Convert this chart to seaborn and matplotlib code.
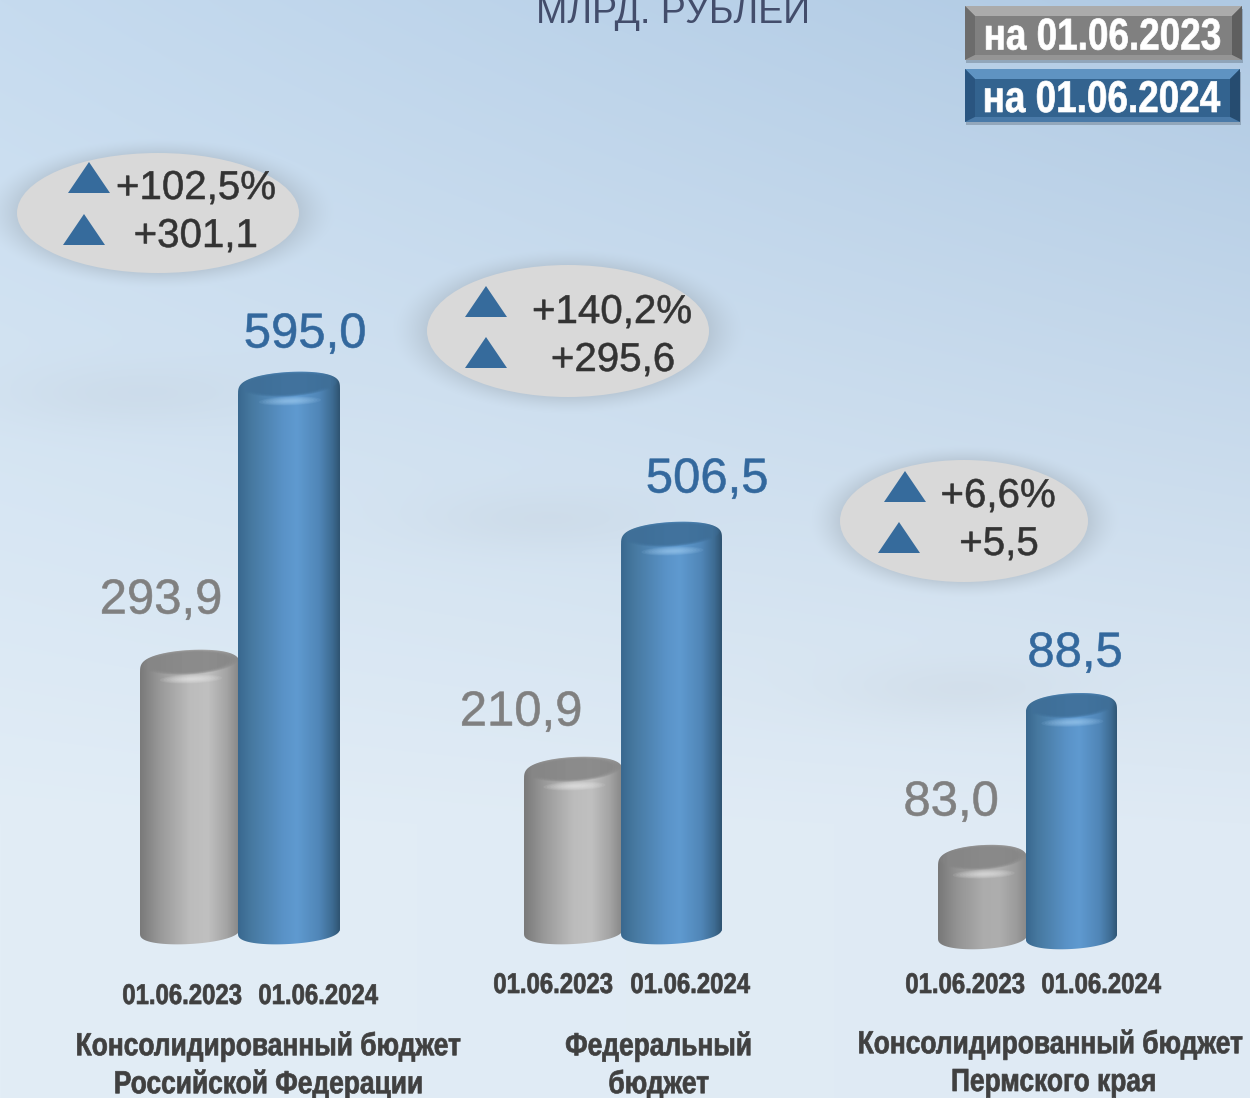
import numpy as np
import pandas as pd
import seaborn as sns
import matplotlib.pyplot as plt
from matplotlib.colors import LinearSegmentedColormap, to_rgb
from matplotlib.patches import Ellipse, Polygon, Rectangle
from matplotlib.patheffects import AbstractPathEffect
from matplotlib.transforms import Affine2D

W, H = 1250, 1098
DATES = ['01.06.2023', '01.06.2024']
group_names = [['Консолидированный бюджет', 'Российской Федерации'],
               ['Федеральный', 'бюджет'],
               ['Консолидированный бюджет', 'Пермского края']]
values_2023 = [293.9, 210.9, 83.0]
values_2024 = [595.0, 506.5, 88.5]
delta_pct = ['+102,5%', '+140,2%', '+6,6%']
delta_abs = ['+301,1', '+295,6', '+5,5']
legend_labels = ['на 01.06.2023', 'на 01.06.2024']
title = 'МЛРД. РУБЛЕЙ'

# layout, in pixels of the picture
ax_left = [140, 524, 938]
ax_right = [340, 722, 1117]
ax_base = [931, 931, 936]
px_per_unit = [0.9233, 0.795, 27.6]
axis_floor = [11.2, 17.2, 80.43]

sns.set_theme(style='white')
plt.rcParams['font.family'] = ['Liberation Sans', 'DejaVu Sans']

GREY, BLUE = '#808080', '#33689d'
grey_cm = LinearSegmentedColormap.from_list('g', [(0, '#7a7a7a'), (.2, '#999999'), (.5, '#bcbcbc'),
                                                  (.68, '#c0c0c0'), (.87, '#a4a4a4'), (1, '#868686')])
grey_cm3 = LinearSegmentedColormap.from_list('g3', [(0, '#787878'), (.2, '#929292'), (.5, '#acacac'),
                                                    (.68, '#aeaeae'), (.87, '#9c9c9c'), (1, '#868686')])
blue_cm = LinearSegmentedColormap.from_list('b', [(0, '#39688f'), (.12, '#46789f'), (.45, '#5a93c8'),
                                                  (.58, '#5f9ad0'), (.8, '#5086b7'), (.93, '#3d6b92'), (1, '#2f5472')])

fig = plt.figure(figsize=(W / 100, H / 100), dpi=100)

# background
bg = fig.add_axes([0, 0, 1, 1], zorder=0)
yy, xx = np.mgrid[0:H, 0:W]
u, v = xx / W, yy / H
v2 = np.clip(v / 0.75, 0, 1)[..., None]
u2 = u[..., None]
c = lambda s: np.array(to_rgb(s))
img = ((1 - u2) * (1 - v2) * c('#c6dbef') + u2 * (1 - v2) * c('#afc9e3')
       + (1 - u2) * v2 * c('#e2edf6') + u2 * v2 * c('#dfeaf4'))
for cx, cy, sx, sy in [(130, 395, 130, 32), (540, 520, 120, 30), (960, 690, 120, 30)]:
    a = 0.10 * np.exp(-((xx - cx) / sx) ** 2 - ((yy - cy) / sy) ** 2)
    img = img * (1 - a[..., None]) + c('#a0a8b0') * a[..., None]
badges = [(158, 213, 141, 60), (568, 331, 141, 66), (964, 521, 124, 61)]
for cx, cy, a_, b_ in badges:
    d = np.sqrt(((xx - cx) / a_) ** 2 + ((yy - cy) / b_) ** 2)
    a = 0.36 * np.clip((1.26 - d) / 0.26, 0, 1) ** 1.5
    img = img * (1 - a[..., None]) + c('#98a4ae') * a[..., None]
bg.imshow(img, extent=[0, W, H, 0], aspect='auto')
bg.axis('off')

# bars
bar_axes = []
for i in range(3):
    ax = fig.add_axes([ax_left[i] / W, (H - ax_base[i]) / H, (ax_right[i] - ax_left[i]) / W, ax_base[i] / H], zorder=1)
    df = pd.DataFrame({'date': DATES, 'value': [values_2023[i], values_2024[i]]})
    sns.barplot(data=df, x='date', y='value', hue='date', palette=[GREY, BLUE], width=1, legend=False, ax=ax, saturation=1)
    ax.set_xlim(-0.5, 1.5)
    ax.set_ylim(axis_floor[i], axis_floor[i] + ax_base[i] / px_per_unit[i])
    ax.axis('off')
    ax.patch.set_alpha(0)
    bar_axes.append(ax)

# overlay in pixel coordinates
ov = fig.add_axes([0, 0, 1, 1], zorder=2)
ov.set_xlim(0, W)
ov.set_ylim(H, 0)
ov.set_autoscale_on(False)
ov.axis('off')
ov.patch.set_alpha(0)


class Squeeze(AbstractPathEffect):
    # the originals use a narrow bold face, none is installed
    def __init__(self, sx, xa, lw=0.5):
        super().__init__()
        self.sx = sx
        self.xa = xa
        self.lw = lw

    def draw_path(self, renderer, gc, tpath, affine, rgbFace=None):
        squeeze = Affine2D().translate(-self.xa, 0).scale(self.sx, 1).translate(self.xa, 0)
        gc0 = renderer.new_gc()
        gc0.copy_properties(gc)
        gc0.set_foreground(rgbFace)
        gc0.set_linewidth(self.lw)
        renderer.draw_path(gc0, tpath, affine + squeeze, rgbFace)
        gc0.restore()


def narrow_text(x, y, s, sx, **kw):
    t = ov.text(x, y, s, fontweight='bold', ha='center', va='center', zorder=8, **kw)
    t.set_path_effects([Squeeze(sx, ov.transData.transform((x, y))[0])])
    return t


def plain_text(x, y, s, **kw):
    t = ov.text(x, y, s, ha='center', va='center', zorder=8, **kw)
    t.set_path_effects([Squeeze(1, 0, 0.4)])
    return t


def to_px(ax, x, y):
    return ov.transData.inverted().transform(ax.transData.transform((x, y)))


def cylinder(ax, p, cm, lid, glow, z):
    x0 = p.get_x()
    x1 = x0 + p.get_width()
    top = p.get_height()
    left, ytop = to_px(ax, x0, top)
    right, ybot = to_px(ax, x1, ax.get_ylim()[0])
    cx = (left + right) / 2
    a = (right - left) / 2
    tilt = 0.055
    t = np.linspace(0, np.pi, 60)
    upper = np.c_[cx + a * np.cos(t), ytop - 20 * np.sin(t) ** 0.6 - tilt * a * np.cos(t)]
    lower = np.c_[cx - a * np.cos(t), ybot + 13 * np.sin(t) ** 0.8 + tilt * a * np.cos(t)]
    sil = Polygon(np.r_[upper, lower], closed=True, transform=ov.transData)
    p.set_clip_path(sil)
    im = ov.imshow(np.linspace(0, 1, 200)[None, :], cmap=cm, extent=[left, right, ybot + 16, ytop - 24],
                   aspect='auto', zorder=z, interpolation='bilinear')
    im.set_clip_path(sil)
    # lid: dark ellipse with soft rim, highlight on the lip
    for k in range(8):
        f = 1 - k * 0.03
        e = Ellipse((cx, ytop - 8), 2 * a * 0.96 * f, 25 * f, angle=-3.5, fc=lid, ec='none', alpha=0.22, zorder=z + 1)
        ov.add_patch(e)
        e.set_clip_path(sil)
    for k in range(8):
        f = 1 - k * 0.11
        e = Ellipse((cx + 1, ytop + 9), 62 * f, 9 * f, angle=-2, fc=glow, ec='none', alpha=0.10, zorder=z + 1)
        ov.add_patch(e)
        e.set_clip_path(sil)


for i, ax in enumerate(bar_axes):
    gp, bp = ax.patches[0], ax.patches[1]
    # blue cylinder overlaps the grey one a little
    bp.set_x(bp.get_x() - 0.02)
    bp.set_width(bp.get_width() + 0.02)
    cylinder(ax, gp, grey_cm3 if i == 2 else grey_cm, '#868686', '#f0f0f0', 3)
    cylinder(ax, bp, blue_cm, '#3f6f98', '#a9d4f7', 5)

# value labels
fmt = lambda v: f'{v:.1f}'.replace('.', ',')
pos_2023 = [(161, 601), (521, 713), (951, 803)]
pos_2024 = [(305, 335), (707, 480), (1075, 654)]
for i in range(3):
    plain_text(*pos_2023[i], fmt(values_2023[i]), color=GREY, fontsize=35.3)
    plain_text(*pos_2024[i], fmt(values_2024[i]), color=BLUE, fontsize=35.3)

# date labels and group names
date_x = [(182, 318), (553, 690), (965, 1101)]
date_y = [997, 986, 986]
name_pos = [[(269, 1047), (269, 1085)], [(659, 1047), (659, 1085)], [(1051, 1045), (1054, 1083)]]
for i in range(3):
    for j in range(2):
        narrow_text(date_x[i][j], date_y[i], DATES[j], 0.84, fontsize=20.5, color='#404040')
        narrow_text(*name_pos[i][j], group_names[i][j], 0.825, fontsize=23, color='#404040')

# badges
tri_1 = [(89, 178), (486, 302), (905, 487)]
tri_2 = [(84, 230), (486, 353), (899, 538)]
pct_pos = [(196, 188), (612, 312), (998, 496)]
abs_pos = [(196, 236), (613, 360), (999, 544)]
for i, (cx, cy, a_, b_) in enumerate(badges):
    ov.add_patch(Ellipse((cx, cy), 2 * a_, 2 * b_, fc='#d9d9d9', ec='none', zorder=6))
    for tx, ty in (tri_1[i], tri_2[i]):
        ov.add_patch(Polygon([(tx - 21, ty + 15), (tx + 21, ty + 15), (tx, ty - 16)], fc='#366b9c', ec='none', zorder=7))
    plain_text(*pct_pos[i], delta_pct[i], color='#333333', fontsize=29)
    plain_text(*abs_pos[i], delta_abs[i], color='#333333', fontsize=29)

# legend buttons
boxes = [(965, 6, 1242, 60, '#808080', '#ababab', '#6c6c6c', '#5f5f5f', '#959595'),
         (965, 69, 1240, 122, '#33638f', '#5f93c2', '#2a5580', '#264c70', '#4a7aa8')]
for (x0, y0, x1, y1, mid, tp, lf, rt, bt), lab in zip(boxes, legend_labels):
    ov.add_patch(Rectangle((x0 + 1, y0 + 3), x1 - x0, y1 - y0, fc='#5a6a7a', ec='none', alpha=0.4, zorder=6))
    b = 10
    ov.add_patch(Rectangle((x0, y0), x1 - x0, y1 - y0, fc=mid, ec='none', zorder=7))
    ov.add_patch(Polygon([(x0, y0), (x1, y0), (x1 - b, y0 + b), (x0 + b, y0 + b)], fc=tp, ec='none', zorder=7))
    ov.add_patch(Polygon([(x0, y0), (x0 + b, y0 + b), (x0 + b, y1 - 5), (x0, y1)], fc=lf, ec='none', zorder=7))
    ov.add_patch(Polygon([(x1, y0), (x1 - b, y0 + b), (x1 - b, y1 - 5), (x1, y1)], fc=rt, ec='none', zorder=7))
    ov.add_patch(Polygon([(x0, y1), (x1, y1), (x1 - b, y1 - 5), (x0 + b, y1 - 5)], fc=bt, ec='none', zorder=7))
    narrow_text((x0 + x1) / 2 - 1, (y0 + y1) / 2 + 5, lab, 0.83, fontsize=32, color='white')

ov.text(673, 23, title, color='#434d6b', fontsize=27, ha='center', va='baseline', zorder=8)

fig.savefig('out.png', dpi=100)
